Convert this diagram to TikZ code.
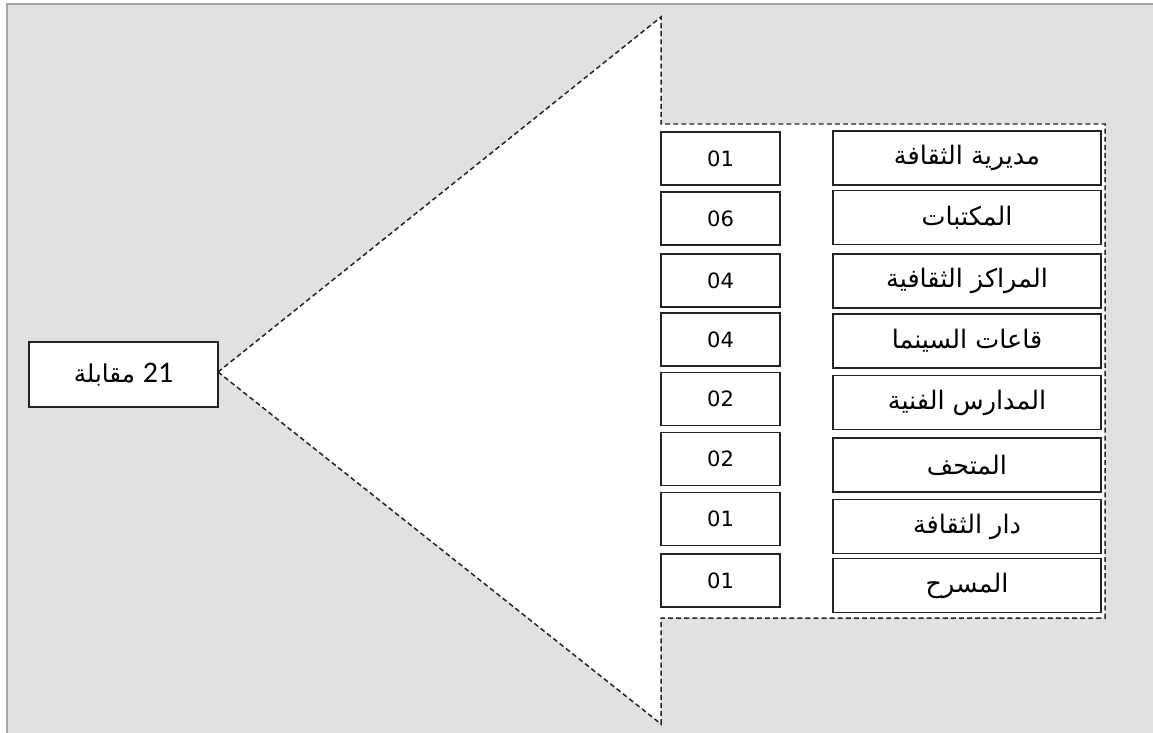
\documentclass[tikz,border=0pt]{standalone}
\usepackage{fontspec}
\newfontfamily\arabicfont[Script=Arabic]{DejaVu Sans}
\newfontfamily\numfont{DejaVu Sans}
\newfontfamily\bignumfont{Carlito}
\TeXXeTstate=1
\usetikzlibrary{positioning}

\definecolor{sheet}{RGB}{225,225,227}
\definecolor{frameline}{RGB}{160,172,158}
\definecolor{boxline}{RGB}{35,35,35}

\tikzset{
	numbox/.style={draw=boxline, line width=0.9pt, fill=white, minimum width=119*0.02cm, minimum height=53*0.02cm, inner sep=0pt, font=\numfont\fontsize{12}{14}\selectfont},
	itembox/.style={draw=boxline, line width=0.9pt, fill=white, minimum width=268*0.02cm, minimum height=54*0.02cm, inner sep=0pt, font=\arabicfont\fontsize{14.5}{16}\selectfont},
	totalbox/.style={draw=boxline, line width=0.9pt, fill=white, minimum width=189*0.02cm, minimum height=65*0.02cm, inner sep=0pt, font=\arabicfont\fontsize{14}{16}\selectfont},
	outline/.style={draw=boxline, line width=0.85pt, dash pattern=on 2.8pt off 1.8pt, fill=white}
}

\begin{document}
\begin{tikzpicture}[x=0.02cm, y=-0.02cm]
	\useasboundingbox (0,0) rectangle (1153,733);
	
	% Draw sheet
	\fill[white] (0,0) rectangle (1153,733);
	\fill[sheet] (7,4) rectangle (1153,733);
	\draw[frameline, line width=1.1pt] (7,733) -- (7,4) -- (1153,4);
	
	% Draw arrow outline
	\coordinate (tip) at (218,372);
	\coordinate (top) at (661,17);
	\coordinate (bot) at (661,724);
	\draw[outline] (tip) -- (top) -- (661,124) -- (1105,124) -- (1105,618) -- (661,618) -- (bot) -- cycle;
	
	% Total
	\node[totalbox] (total) at (123.5,374.5) {\beginR\beginL{\bignumfont\fontsize{17}{19}\selectfont 21}\endL{} مقابلة\endR};
	
	% Items and counts
	\foreach \i/\yn/\yt/\num/\txt in {
		1/158.5/158/01/مديرية الثقافة,
		2/218.5/217.5/06/المكتبات,
		3/280.5/281/04/المراكز الثقافية,
		4/339.5/341/04/قاعات السينما,
		5/399/402.5/02/المدارس الفنية,
		6/459/465/02/المتحف,
		7/519/526.5/01/دار الثقافة,
		8/580.5/585.5/01/المسرح}{
		\node[numbox] (n\i) at (720.5,\yn) {\num};
		\node[itembox] (t\i) at (967,\yt) {\beginR\txt\endR};
	}
\end{tikzpicture}
\end{document}
